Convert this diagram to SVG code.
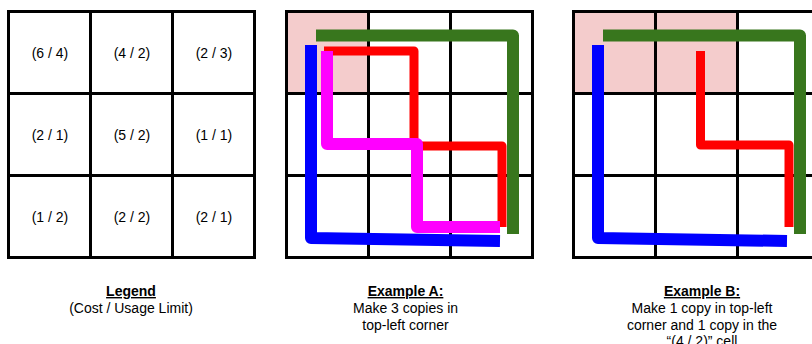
<svg xmlns="http://www.w3.org/2000/svg" width="812" height="344" viewBox="0 0 812 344">
<style>
.cell{fill:#ffffff;stroke:#000000;stroke-width:3}
.hot{fill:#f4cccc;stroke:#000000;stroke-width:3}
.lbl{font-family:"Liberation Sans",Arial,sans-serif;font-size:14px;fill:#000000;text-anchor:middle}
.ttl{font-family:"Liberation Sans",Arial,sans-serif;font-size:14px;font-weight:bold;fill:#000000;text-anchor:middle;text-decoration:underline}
.route{fill:none;stroke-linejoin:round;stroke-linecap:butt}
</style>
<rect width="812" height="344" fill="#ffffff"/>
<g id="legend-grid">
  <g id="l-r1c1"><rect class="cell" x="8.5" y="11.5" width="82" height="82"/><text class="lbl" x="50" y="58">(6 / 4)</text></g>
  <g id="l-r1c2"><rect class="cell" x="90.5" y="11.5" width="82" height="82"/><text class="lbl" x="132" y="58">(4 / 2)</text></g>
  <g id="l-r1c3"><rect class="cell" x="172.5" y="11.5" width="82" height="82"/><text class="lbl" x="214" y="58">(2 / 3)</text></g>
  <g id="l-r2c1"><rect class="cell" x="8.5" y="93.5" width="82" height="82"/><text class="lbl" x="50" y="140">(2 / 1)</text></g>
  <g id="l-r2c2"><rect class="cell" x="90.5" y="93.5" width="82" height="82"/><text class="lbl" x="132" y="140">(5 / 2)</text></g>
  <g id="l-r2c3"><rect class="cell" x="172.5" y="93.5" width="82" height="82"/><text class="lbl" x="214" y="140">(1 / 1)</text></g>
  <g id="l-r3c1"><rect class="cell" x="8.5" y="175.5" width="82" height="82"/><text class="lbl" x="50" y="222">(1 / 2)</text></g>
  <g id="l-r3c2"><rect class="cell" x="90.5" y="175.5" width="82" height="82"/><text class="lbl" x="132" y="222">(2 / 2)</text></g>
  <g id="l-r3c3"><rect class="cell" x="172.5" y="175.5" width="82" height="82"/><text class="lbl" x="214" y="222">(2 / 1)</text></g>
</g>
<g id="a-grid">
  <g id="a-r1c1"><rect class="hot" x="286.5" y="11.5" width="82" height="82"/></g>
  <g id="a-r1c2"><rect class="cell" x="368.5" y="11.5" width="82" height="82"/></g>
  <g id="a-r1c3"><rect class="cell" x="450.5" y="11.5" width="82" height="82"/></g>
  <g id="a-r2c1"><rect class="cell" x="286.5" y="93.5" width="82" height="82"/></g>
  <g id="a-r2c2"><rect class="cell" x="368.5" y="93.5" width="82" height="82"/></g>
  <g id="a-r2c3"><rect class="cell" x="450.5" y="93.5" width="82" height="82"/></g>
  <g id="a-r3c1"><rect class="cell" x="286.5" y="175.5" width="82" height="82"/></g>
  <g id="a-r3c2"><rect class="cell" x="368.5" y="175.5" width="82" height="82"/></g>
  <g id="a-r3c3"><rect class="cell" x="450.5" y="175.5" width="82" height="82"/></g>
</g>
<g id="b-grid">
  <g id="b-r1c1"><rect class="hot" x="573.5" y="11.5" width="82" height="82"/></g>
  <g id="b-r1c2"><rect class="hot" x="655.5" y="11.5" width="82" height="82"/></g>
  <g id="b-r1c3"><rect class="cell" x="737.5" y="11.5" width="82" height="82"/></g>
  <g id="b-r2c1"><rect class="cell" x="573.5" y="93.5" width="82" height="82"/></g>
  <g id="b-r2c2"><rect class="cell" x="655.5" y="93.5" width="82" height="82"/></g>
  <g id="b-r2c3"><rect class="cell" x="737.5" y="93.5" width="82" height="82"/></g>
  <g id="b-r3c1"><rect class="cell" x="573.5" y="175.5" width="82" height="82"/></g>
  <g id="b-r3c2"><rect class="cell" x="655.5" y="175.5" width="82" height="82"/></g>
  <g id="b-r3c3"><rect class="cell" x="737.5" y="175.5" width="82" height="82"/></g>
</g>
<g id="connectors">
  <path class="route" stroke="#38761d" stroke-width="12" d="M316 35.5 H513 V234"/>
  <path class="route" stroke="#0000ff" stroke-width="12" d="M311 45 V238 L500 241"/>
  <path class="route" stroke="#ff0000" stroke-width="9" d="M324 51 H414 V146 H502 V227"/>
  <path class="route" stroke="#ff00ff" stroke-width="12" d="M327 51 V144 H417 V227 H500"/>
  <path class="route" stroke="#38761d" stroke-width="12" d="M603 35.5 H800 V234"/>
  <path class="route" stroke="#0000ff" stroke-width="12" d="M598 45 V238 L787 241"/>
  <path class="route" stroke="#ff0000" stroke-width="9" d="M700.5 51 V145 H789 V227"/>
</g>
<g id="caption-legend">
  <text class="ttl" x="131" y="296">Legend</text>
  <text class="lbl" x="131" y="313">(Cost / Usage Limit)</text>
</g>
<g id="caption-a">
  <text class="ttl" x="405.5" y="296">Example A:</text>
  <text class="lbl" x="405.5" y="313">Make 3 copies in</text>
  <text class="lbl" x="405.5" y="329.5">top-left corner</text>
</g>
<g id="caption-b">
  <text class="ttl" x="702" y="296">Example B:</text>
  <text class="lbl" x="702" y="313">Make 1 copy in top-left</text>
  <text class="lbl" x="702" y="329.5">corner and 1 copy in the</text>
  <text class="lbl" x="702" y="346">“(4 / 2)” cell</text>
</g>
</svg>
